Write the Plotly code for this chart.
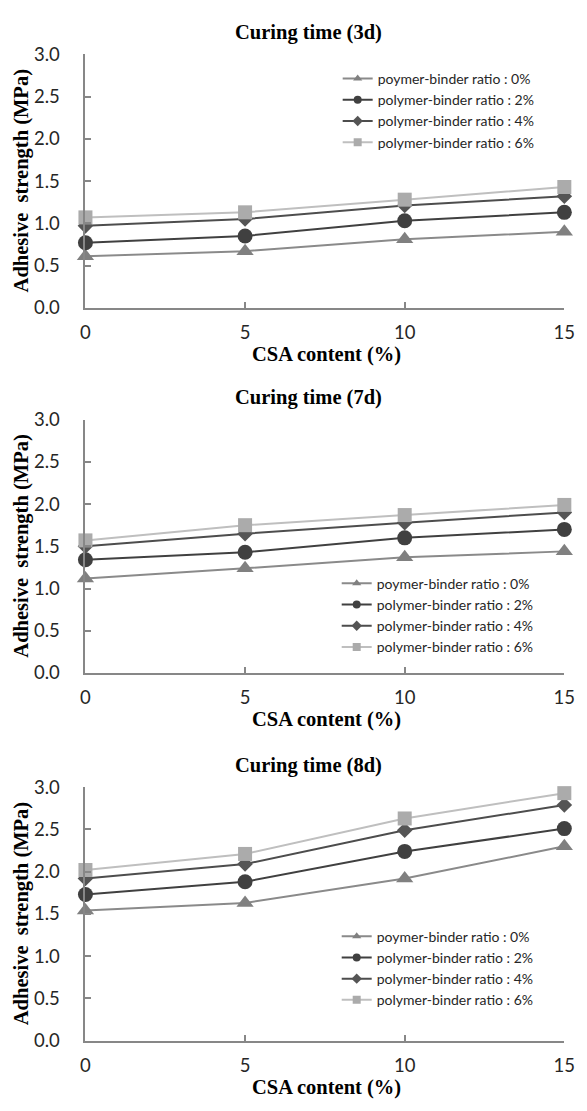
import plotly.graph_objects as go

# CSA content (%) on the x axis
csa_content = [0, 5, 10, 15]

# Adhesive strength (MPa) per polymer-binder ratio, one block per curing time
strength_3d_0 = [0.61, 0.67, 0.81, 0.90]
strength_3d_2 = [0.77, 0.85, 1.03, 1.13]
strength_3d_4 = [0.97, 1.05, 1.21, 1.32]
strength_3d_6 = [1.07, 1.13, 1.28, 1.43]

strength_7d_0 = [1.12, 1.24, 1.37, 1.44]
strength_7d_2 = [1.34, 1.43, 1.60, 1.70]
strength_7d_4 = [1.50, 1.65, 1.78, 1.90]
strength_7d_6 = [1.57, 1.75, 1.87, 1.99]

strength_8d_0 = [1.54, 1.63, 1.92, 2.30]
strength_8d_2 = [1.73, 1.88, 2.24, 2.51]
strength_8d_4 = [1.92, 2.09, 2.49, 2.79]
strength_8d_6 = [2.02, 2.21, 2.63, 2.93]

series_names = [
    "poymer-binder ratio : 0%",
    "polymer-binder ratio : 2%",
    "polymer-binder ratio : 4%",
    "polymer-binder ratio : 6%",
]
panel_titles = ["Curing time (3d)", "Curing time (7d)", "Curing time (8d)"]
y_tick_values = [0, 0.5, 1.0, 1.5, 2.0, 2.5, 3.0]

panels = [
    [strength_3d_0, strength_3d_2, strength_3d_4, strength_3d_6],
    [strength_7d_0, strength_7d_2, strength_7d_4, strength_7d_6],
    [strength_8d_0, strength_8d_2, strength_8d_4, strength_8d_6],
]

# series styling: marker symbol, marker colour, line colour, marker size
styles = [
    ("triangle-up", "#808080", "#8a8a8a", 15),
    ("circle", "#404040", "#404040", 15),
    ("diamond", "#555555", "#4d4d4d", 12),
    ("square", "#ababab", "#bfbfbf", 14),
]

W, H = 587, 1111


def px_x(p):
    return p / W


def px_y(p):
    return 1 - p / H


# pixel rows of the y=3.0 line of each panel
panel_top = [43.3, 415.9, 790.9]
panel_h = 258.4
x_left, x_right = 82.7, 575.0

# legend box pixel positions (left x, top y)
legend_pos = [(342, 52), (341, 567), (341, 927)]

axis_grey = "#878787"
tick_font = dict(family="Lato", size=18.5, color="#262626")
serif_bold = "Liberation Serif"

fig = go.Figure()
annotations = []
layout = {}

for i, data in enumerate(panels):
    xa = "x" if i == 0 else f"x{i + 1}"
    ya = "y" if i == 0 else f"y{i + 1}"
    leg = "legend" if i == 0 else f"legend{i + 1}"

    for values, name, (sym, mcol, lcol, msize) in zip(data, series_names, styles):
        fig.add_trace(go.Scatter(
            x=csa_content, y=values, name=name, mode="lines+markers",
            line=dict(color=lcol, width=2),
            marker=dict(symbol=sym, color=mcol, size=msize),
            xaxis=xa, yaxis=ya, showlegend=False, cliponaxis=False,
        ))
    # legend entries with the smaller key markers
    for name, (sym, mcol, lcol, msize) in zip(series_names, styles):
        fig.add_trace(go.Scatter(
            x=[None], y=[None], name=name, mode="lines+markers",
            line=dict(color=lcol, width=2),
            marker=dict(symbol=sym, color=mcol, size=8),
            xaxis=xa, yaxis=ya, legend=leg, showlegend=True,
        ))

    top = panel_top[i]
    bottom = top + panel_h
    suffix = "" if i == 0 else str(i + 1)

    layout["xaxis" + suffix] = dict(
        domain=[px_x(x_left), px_x(x_right)], anchor=ya,
        range=[0, 15], tickvals=csa_content, ticktext=[str(v) for v in csa_content],
        showline=True, linecolor=axis_grey, linewidth=2,
        ticks="inside", ticklen=6, tickwidth=2, tickcolor=axis_grey,
        showgrid=False, zeroline=False, tickfont=tick_font,
        ticklabelstandoff=7,
    )
    layout["yaxis" + suffix] = dict(
        domain=[px_y(bottom), px_y(top)], anchor=xa,
        range=[0, 3], tickvals=y_tick_values, tickformat=".1f",
        showline=True, linecolor=axis_grey, linewidth=2,
        ticks="inside", ticklen=6, tickwidth=2, tickcolor=axis_grey,
        showgrid=False, zeroline=False, tickfont=tick_font,
        ticklabelstandoff=20,
    )
    lx, ly = legend_pos[i]
    layout[leg] = dict(
        x=px_x(lx), y=px_y(ly), xanchor="left", yanchor="top",
        bgcolor="rgba(0,0,0,0)", borderwidth=0,
        font=dict(family="Lato", size=14, color="#262626"),
        traceorder="normal",
    )

    annotations.append(dict(
        text="<b>" + panel_titles[i] + "</b>", xref="paper", yref="paper",
        x=px_x(312), y=px_y(top - 22.6), xanchor="center", yanchor="middle",
        showarrow=False, font=dict(family=serif_bold, size=20.5, color="#000000"),
    ))
    annotations.append(dict(
        text="<b>CSA content (%)</b>", xref="paper", yref="paper",
        x=px_x(331), y=px_y(bottom + 47.5), xanchor="center", yanchor="middle",
        showarrow=False, font=dict(family=serif_bold, size=20.5, color="#000000"),
    ))
    annotations.append(dict(
        text="<b>Adhesive  strength (MPa)</b>", xref="paper", yref="paper",
        x=px_x(17), y=px_y(top + 129), xanchor="center", yanchor="middle",
        textangle=-90, showarrow=False,
        font=dict(family=serif_bold, size=20.5, color="#000000"),
    ))

fig.update_layout(
    width=W, height=H,
    margin=dict(l=0, r=0, t=0, b=0),
    paper_bgcolor="white", plot_bgcolor="white",
    annotations=annotations,
    **layout,
)

fig.write_html("out.html")
